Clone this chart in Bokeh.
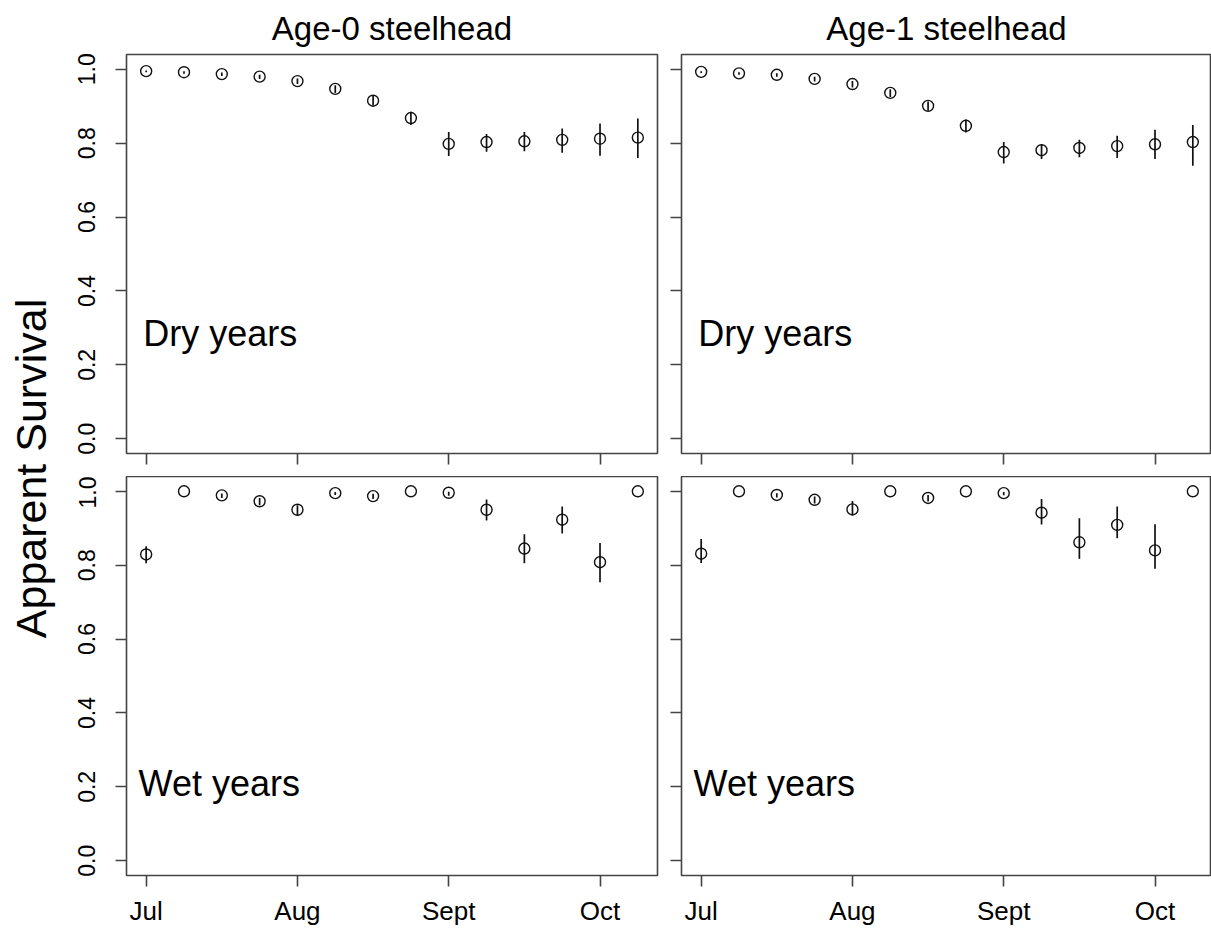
from math import pi
from bokeh.plotting import figure
from bokeh.models import Range1d, FixedTicker, Label, ColumnDataSource
from bokeh.layouts import row, column
from bokeh.embed import file_html
from bokeh.resources import INLINE

# ---------------- data ----------------
occasion = list(range(1, 15))
month_ticks = [1, 5, 9, 13]
month_labels = ["Jul", "Aug", "Sept", "Oct"]
y_ticks = [0.0, 0.2, 0.4, 0.6, 0.8, 1.0]
y_tick_labels = ["0.0", "0.2", "0.4", "0.6", "0.8", "1.0"]
panel_titles = ["Age-0 steelhead", "Age-1 steelhead"]
condition_labels = ["Dry years", "Wet years"]

age0_dry_mean = [0.995, 0.992, 0.987, 0.980, 0.968, 0.947, 0.915, 0.868, 0.798, 0.803, 0.805, 0.809, 0.812, 0.815]
age0_dry_lo   = [0.992, 0.988, 0.982, 0.974, 0.960, 0.936, 0.902, 0.849, 0.765, 0.777, 0.778, 0.774, 0.766, 0.760]
age0_dry_hi   = [0.997, 0.995, 0.991, 0.985, 0.975, 0.957, 0.928, 0.885, 0.830, 0.825, 0.830, 0.840, 0.853, 0.867]

age1_dry_mean = [0.993, 0.989, 0.985, 0.974, 0.960, 0.936, 0.901, 0.847, 0.776, 0.781, 0.787, 0.792, 0.797, 0.803]
age1_dry_lo   = [0.990, 0.985, 0.980, 0.967, 0.951, 0.925, 0.888, 0.829, 0.745, 0.757, 0.762, 0.760, 0.757, 0.739]
age1_dry_hi   = [0.995, 0.992, 0.989, 0.980, 0.968, 0.946, 0.913, 0.864, 0.803, 0.797, 0.809, 0.820, 0.836, 0.849]

age0_wet_mean = [0.829, 1.000, 0.989, 0.973, 0.950, 0.995, 0.987, 1.000, 0.996, 0.950, 0.845, 0.923, 0.808, 1.000]
age0_wet_lo   = [0.805, 1.000, 0.982, 0.962, 0.934, 0.990, 0.979, 1.000, 0.988, 0.921, 0.805, 0.886, 0.754, 1.000]
age0_wet_hi   = [0.851, 1.000, 0.994, 0.982, 0.962, 0.998, 0.993, 1.000, 0.999, 0.978, 0.884, 0.959, 0.860, 1.000]

age1_wet_mean = [0.831, 1.000, 0.990, 0.977, 0.951, 1.000, 0.982, 1.000, 0.995, 0.942, 0.862, 0.909, 0.840, 1.000]
age1_wet_lo   = [0.806, 1.000, 0.983, 0.967, 0.934, 1.000, 0.972, 1.000, 0.989, 0.910, 0.817, 0.873, 0.790, 1.000]
age1_wet_hi   = [0.871, 1.000, 0.995, 0.986, 0.974, 1.000, 0.990, 1.000, 0.998, 0.979, 0.927, 0.959, 0.911, 1.000]

# ---------------- style ----------------
FONT = "Liberation Sans"
FRAME_COLOR = "#444444"
INK = "#111111"
X_START, X_END = 0.48, 14.52
Y_START, Y_END = -0.04, 1.04
FRAME_W_LEFT = 531
FRAME_W_RIGHT = 530
FRAME_H = 399
UNIT = FRAME_W_LEFT / (X_END - X_START)
TOP_BORDER = 54
GAP = 23
BOTTOM_BORDER = 51
LEFT_BORDER = 62
LABEL_W = 64


def make_panel(mean, lo, hi, title, cond, cond_x, cond_y, is_left, is_top):
    frame_w = FRAME_W_LEFT if is_left else FRAME_W_RIGHT
    x_end = X_START + frame_w / UNIT
    p = figure(
        frame_width=frame_w, frame_height=FRAME_H,
        x_range=Range1d(X_START, x_end), y_range=Range1d(Y_START, Y_END),
        output_backend="svg", toolbar_location=None,
        min_border_left=LEFT_BORDER if is_left else 20,
        min_border_right=4 if is_left else 0,
        min_border_top=TOP_BORDER if is_top else 0,
        min_border_bottom=GAP if is_top else BOTTOM_BORDER,
        background_fill_color="white", border_fill_color="white",
    )
    p.grid.visible = False
    p.outline_line_color = FRAME_COLOR
    p.outline_line_width = 1.6

    xa = p.xaxis[0]
    ya = p.yaxis[0]
    xa.ticker = FixedTicker(ticks=month_ticks)
    ya.ticker = FixedTicker(ticks=y_ticks)
    for ax in (xa, ya):
        ax.axis_line_color = None
        ax.major_tick_in = 0
        ax.major_tick_out = 11
        ax.major_tick_line_color = FRAME_COLOR
        ax.major_tick_line_width = 1.6
        ax.minor_tick_line_color = None
        ax.major_label_text_font = FONT
        ax.major_label_text_color = "black"
    if is_top:
        xa.major_label_overrides = {t: "" for t in month_ticks}
        xa.major_label_text_font_size = "0px"
        xa.major_label_standoff = 0
    else:
        xa.major_label_overrides = dict(zip(month_ticks, month_labels))
        xa.major_label_text_font_size = "26px"
        xa.major_label_standoff = 9
    if is_left:
        ya.major_label_overrides = dict(zip(y_ticks, y_tick_labels))
        ya.major_label_text_font_size = "23px"
        ya.major_label_orientation = "vertical"
        ya.major_label_standoff = 20
    else:
        ya.major_label_overrides = {t: "" for t in y_ticks}
        ya.major_label_text_font_size = "0px"
        ya.major_label_standoff = 0

    if title:
        p.title.text = title
        p.title.text_font = FONT
        p.title.text_font_size = "33px"
        p.title.text_font_style = "normal"
        p.title.text_color = "black"
        p.title.align = "center"
        p.title.standoff = 15

    src = ColumnDataSource(dict(x=occasion, mean=mean, lo=lo, hi=hi))
    p.segment(x0="x", y0="lo", x1="x", y1="hi", source=src,
              line_color=INK, line_width=1.7)
    p.scatter(x="x", y="mean", source=src, marker="circle", size=11,
              fill_color=None, line_color=INK, line_width=1.4)

    p.add_layout(Label(x=cond_x, y=cond_y, text=cond, text_font=FONT,
                       text_font_size="36px", text_color="black",
                       text_align="left", text_baseline="middle"))
    return p


tl = make_panel(age0_dry_mean, age0_dry_lo, age0_dry_hi, panel_titles[0],
                condition_labels[0], 0.92, 0.285, True, True)
tr = make_panel(age1_dry_mean, age1_dry_lo, age1_dry_hi, panel_titles[1],
                condition_labels[0], 0.92, 0.285, False, True)
bl = make_panel(age0_wet_mean, age0_wet_lo, age0_wet_hi, None,
                condition_labels[1], 0.80, 0.21, True, False)
br = make_panel(age1_wet_mean, age1_wet_lo, age1_wet_hi, None,
                condition_labels[1], 0.80, 0.21, False, False)

TOTAL_H = TOP_BORDER + FRAME_H + GAP + FRAME_H + BOTTOM_BORDER
lab = figure(width=LABEL_W, height=TOTAL_H, x_range=Range1d(0, LABEL_W), y_range=Range1d(0, TOTAL_H),
             output_backend="svg", toolbar_location=None, min_border=0,
             background_fill_color="white", border_fill_color="white")
lab.axis.visible = False
lab.grid.visible = False
lab.outline_line_color = None
lab.add_layout(Label(x=30, y=TOTAL_H - 468, text="Apparent Survival", angle=pi / 2,
                     text_font=FONT, text_font_size="43px", text_color="black",
                     text_align="center", text_baseline="middle"))

layout = row(lab, column(row(tl, tr), row(bl, br)))

open("out.html", "w").write(file_html(layout, INLINE))
